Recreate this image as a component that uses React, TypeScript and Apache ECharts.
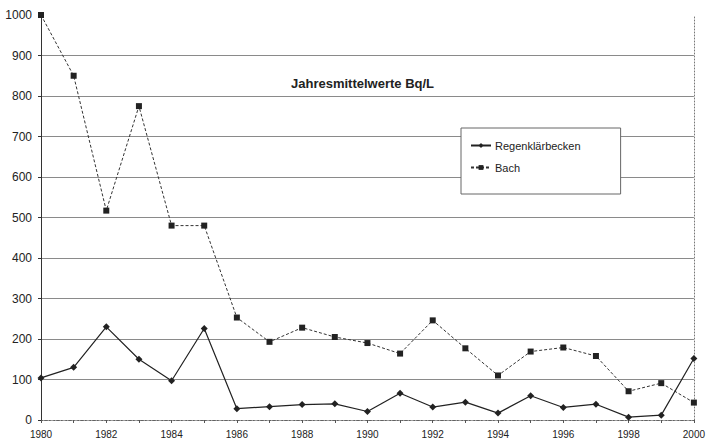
import React, { useEffect, useRef } from "react";
import * as echarts from "echarts";

const years = [
  "1980", "1981", "1982", "1983", "1984", "1985", "1986", "1987", "1988", "1989", "1990",
  "1991", "1992", "1993", "1994", "1995", "1996", "1997", "1998", "1999", "2000",
];

const regenklaerbecken = [
  104, 130, 230, 150, 97, 226, 28, 33, 38, 40, 21, 66, 32, 44, 17, 60, 31, 39, 7, 12, 152,
];

const bach = [
  1000, 850, 517, 775, 480, 480, 253, 193, 228, 205, 190, 164, 246, 177, 110, 169, 179, 158, 71, 91, 43,
];

const titleText = "Jahresmittelwerte Bq/L";
const seriesNames = ["Regenklärbecken", "Bach"];

const FONT = "Liberation Sans, Arial, sans-serif";
const INK = "#222";

export default function App() {
  const ref = useRef<HTMLDivElement>(null);

  useEffect(() => {
    if (!ref.current) return;
    const chart = echarts.init(ref.current, undefined, { renderer: "svg" });
    chart.setOption({
      animation: false,
      backgroundColor: "#fff",
      title: {
        text: titleText,
        left: 286,
        top: 72,
        textStyle: { fontFamily: FONT, fontSize: 13, fontWeight: "bold", color: INK },
      },
      legend: {
        data: seriesNames,
        orient: "vertical",
        left: 461,
        top: 128,
        padding: [12, 40, 21, 9],
        itemWidth: 20,
        itemHeight: 6,
        itemGap: 11,
        backgroundColor: "#fff",
        borderColor: "#666",
        borderWidth: 1,
        borderRadius: 0,
        textStyle: { fontFamily: FONT, fontSize: 11, color: INK, padding: [0, 0, 0, -1] },
      },
      grid: { left: 41, right: 12, top: 15, bottom: 25, containLabel: false },
      xAxis: [
        {
          type: "category",
          data: years,
          boundaryGap: false,
          axisLine: { lineStyle: { color: "#555", type: [2, 2], width: 1 } },
          axisTick: { show: true, interval: 0, length: 3, lineStyle: { color: "#555" } },
          axisLabel: {
            interval: 1,
            fontFamily: FONT,
            fontSize: 10,
            color: INK,
            margin: 9,
          },
          splitLine: { show: false },
        },
        {
          type: "category",
          data: years,
          boundaryGap: false,
          position: "top",
          axisLine: { lineStyle: { color: "#777", type: [1, 2], width: 1 } },
          axisTick: { show: false },
          axisLabel: { show: false },
        },
      ],
      yAxis: [
        {
          type: "value",
          min: 0,
          max: 1000,
          interval: 100,
          axisLine: { show: true, lineStyle: { color: "#333", width: 1 } },
          axisTick: { show: true, length: 3, lineStyle: { color: "#333" } },
          axisLabel: {
            fontFamily: FONT,
            fontSize: 12,
            color: INK,
            margin: 9,
            formatter: (v: number) => String(v),
          },
          splitLine: {
            show: true,
            showMinLine: false,
            showMaxLine: false,
            lineStyle: { color: "#8a8a8a", width: 1 },
          },
        },
        {
          type: "value",
          min: 0,
          max: 1000,
          interval: 100,
          position: "right",
          axisLine: { show: true, lineStyle: { color: "#777", type: [1, 2], width: 1 } },
          axisTick: { show: false },
          axisLabel: { show: false },
          splitLine: { show: false },
        },
      ],
      series: [
        {
          name: seriesNames[0],
          type: "line",
          data: regenklaerbecken,
          symbol: "diamond",
          symbolSize: 7,
          itemStyle: { color: INK },
          lineStyle: { color: INK, width: 1.2, type: "solid" },
          z: 3,
        },
        {
          name: seriesNames[1],
          type: "line",
          data: bach,
          symbol: "rect",
          symbolSize: 6,
          itemStyle: { color: INK },
          lineStyle: { color: "#333", width: 1, type: [3, 2] },
          z: 2,
        },
      ],
    });
    return () => chart.dispose();
  }, []);

  return (
    <div
      ref={ref}
      style={{ width: 708, height: 445, position: "absolute", left: 0, top: 0 }}
    />
  );
}
